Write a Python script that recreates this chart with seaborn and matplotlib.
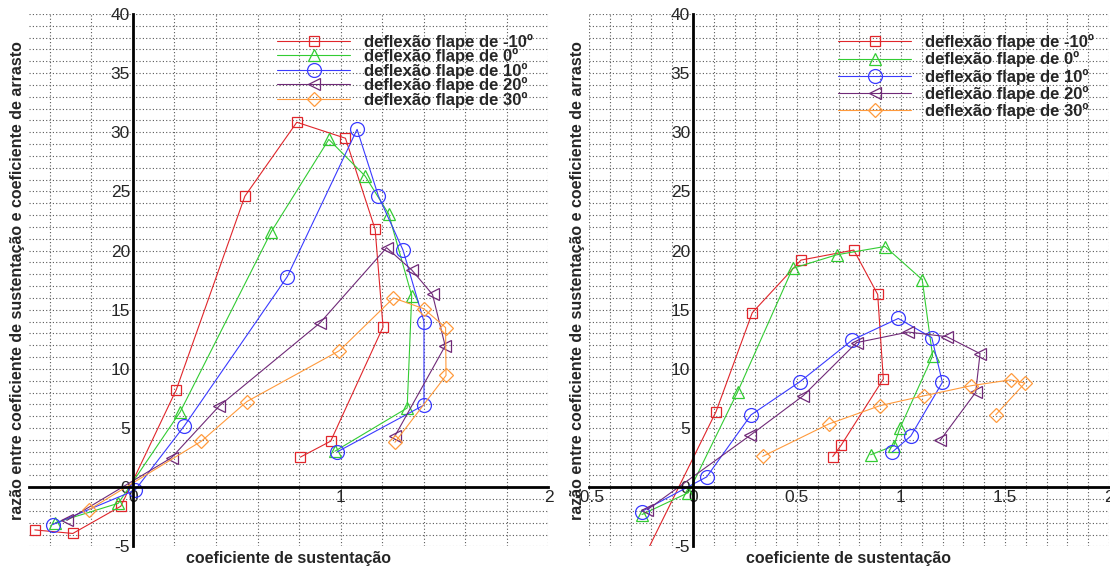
import matplotlib
matplotlib.use('Agg')
import matplotlib.pyplot as plt
import seaborn as sns
from matplotlib.ticker import MultipleLocator, FuncFormatter

# legenda
rotulos = ['deflexão flape de -10º', 'deflexão flape de 0º', 'deflexão flape de 10º',
           'deflexão flape de 20º', 'deflexão flape de 30º']

# grafico da esquerda (CL, CL/CD)
esq_cl_m10 = [-0.472, -0.289, -0.058, 0.209, 0.539, 0.789, 1.023, 1.166, 1.204, 0.952, 0.806]
esq_ld_m10 = [-3.6, -3.9, -1.6, 8.25, 24.6, 30.85, 29.5, 21.8, 13.55, 3.9, 2.55]
esq_cl_0 = [-0.374, -0.07, 0.227, 0.666, 0.943, 1.118, 1.231, 1.342, 1.32, 0.972]
esq_ld_0 = [-3.0, -1.35, 6.35, 21.6, 29.4, 26.3, 23.1, 16.2, 6.7, 3.05]
esq_cl_10 = [-0.386, 0.01, 0.248, 0.743, 1.079, 1.181, 1.3, 1.401, 1.401, 0.984]
esq_ld_10 = [-3.15, -0.25, 5.2, 17.8, 30.25, 24.65, 20.05, 14.0, 6.95, 3.0]
esq_cl_20 = [-0.318, 0.186, 0.416, 0.901, 1.221, 1.343, 1.442, 1.503, 1.26]
esq_ld_20 = [-2.8, 2.5, 6.88, 13.9, 20.25, 18.35, 16.3, 11.95, 4.3]
esq_cl_30 = [-0.21, 0.33, 0.549, 0.994, 1.254, 1.399, 1.505, 1.507, 1.261]
esq_ld_30 = [-1.88, 3.9, 7.25, 11.55, 16.0, 15.1, 13.5, 9.45, 3.8]

# grafico da direita
dir_cl_m10 = [-0.26, 0.111, 0.285, 0.519, 0.773, 0.888, 0.915, 0.712, 0.672]
dir_ld_m10 = [-6.8, 6.4, 14.75, 19.2, 20.05, 16.3, 9.15, 3.55, 2.6]
dir_cl_0 = [-0.245, -0.022, 0.215, 0.479, 0.691, 0.923, 1.102, 1.152, 0.995, 0.965, 0.854]
dir_ld_0 = [-2.3, -0.45, 8.08, 18.5, 19.65, 20.35, 17.55, 11.1, 5.0, 3.5, 2.75]
dir_cl_10 = [-0.247, 0.066, 0.279, 0.514, 0.766, 0.987, 1.148, 1.199, 1.047, 0.958]
dir_ld_10 = [-2.05, 0.88, 6.12, 8.92, 12.45, 14.27, 12.65, 8.87, 4.33, 2.98]
dir_cl_20 = [-0.22, 0.274, 0.53, 0.787, 1.035, 1.22, 1.38, 1.359, 1.188]
dir_ld_20 = [-1.9, 4.38, 7.74, 12.23, 13.12, 12.73, 11.3, 8.02, 3.96]
dir_cl_30 = [0.335, 0.654, 0.899, 1.112, 1.335, 1.527, 1.596, 1.455]
dir_ld_30 = [2.61, 5.36, 6.9, 7.74, 8.58, 9.08, 8.81, 6.12]

cores = ['#e0262b', '#33cc33', '#3a3aff', '#702a78', '#ff9a3c']
marcadores = ['s', '^', 'o', '<', 'D']
tamanhos = [7.5, 8.5, 10, 8.5, 7.0]

sns.set_style('white')
plt.rcParams['font.family'] = ['Liberation Sans', 'DejaVu Sans']
plt.rcParams['axes.unicode_minus'] = False

fig = plt.figure(figsize=(11.1, 5.66), dpi=100)
ax1 = fig.add_axes([0.0261, 0.0345, 0.468, 0.9408])
ax2 = fig.add_axes([0.5306, 0.0345, 0.4685, 0.9408])

series_esq = [(esq_cl_m10, esq_ld_m10), (esq_cl_0, esq_ld_0), (esq_cl_10, esq_ld_10),
              (esq_cl_20, esq_ld_20), (esq_cl_30, esq_ld_30)]
series_dir = [(dir_cl_m10, dir_ld_m10), (dir_cl_0, dir_ld_0), (dir_cl_10, dir_ld_10),
              (dir_cl_20, dir_ld_20), (dir_cl_30, dir_ld_30)]


def desenha(ax, series, xmaj, xmin, leg_xy, leg_sp):
    for (x, y), c, m, ms, lab in zip(series, cores, marcadores, tamanhos, rotulos):
        sns.lineplot(x=x, y=y, ax=ax, sort=False, estimator=None, color=c, lw=0.8,
                     marker=m, markersize=ms, markerfacecolor='none',
                     markeredgecolor=c, markeredgewidth=0.9, label=lab)
    ax.set_xlim(-0.5, 2)
    ax.set_ylim(-5, 40)
    for s in ['top', 'right']:
        ax.spines[s].set_visible(False)
    ax.spines['left'].set_position(('data', 0))
    ax.spines['bottom'].set_position(('data', 0))
    for s in ['left', 'bottom']:
        ax.spines[s].set_linewidth(2)
        ax.spines[s].set_color('black')
        ax.spines[s].set_zorder(5)
    ax.xaxis.set_major_locator(MultipleLocator(xmaj))
    ax.xaxis.set_minor_locator(MultipleLocator(xmin))
    ax.yaxis.set_major_locator(MultipleLocator(5))
    ax.yaxis.set_minor_locator(MultipleLocator(1))
    fmt = FuncFormatter(lambda v, p: '%g' % v)
    ax.xaxis.set_major_formatter(fmt)
    ax.yaxis.set_major_formatter(fmt)
    ax.tick_params(which='major', direction='in', length=9, width=2, labelsize=12.5, pad=2)
    ax.tick_params(which='minor', direction='in', length=6, width=1)
    ax.grid(which='both', color='0.35', linestyle=(0, (1, 2)), linewidth=0.8)
    ax.set_axisbelow(True)
    ax.set_xlabel('coeficiente de sustentação', fontsize=11.5, fontweight='bold', va='top')
    ax.xaxis.set_label_coords(0.5, -0.008)
    ax.set_ylabel('razão entre coeficiente de sustentação e coeficiente de arrasto',
                  fontsize=11.5, fontweight='bold')
    ax.yaxis.set_label_coords(-0.008, 0.5)
    ax.legend(loc='upper left', bbox_to_anchor=leg_xy, frameon=False,
              prop={'weight': 'bold', 'size': 12}, handlelength=4.4, handletextpad=0.8,
              labelspacing=leg_sp, borderpad=0, borderaxespad=0)


desenha(ax1, series_esq, 1, 0.2, (0.4775, 0.963), -0.09)
desenha(ax2, series_dir, 0.5, 0.1, (0.479, 0.962), 0.07)

fig.savefig('out.png', dpi=100)
